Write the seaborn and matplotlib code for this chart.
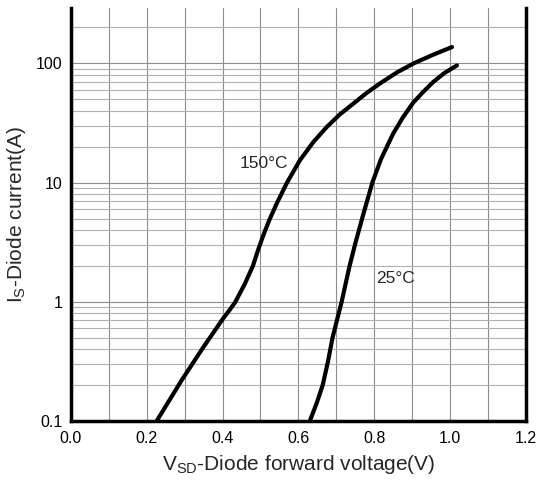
import numpy as np
import pandas as pd
import matplotlib
matplotlib.use("Agg")
import matplotlib.pyplot as plt
import seaborn as sns
from matplotlib.ticker import FixedLocator, LogLocator, NullFormatter, FixedFormatter

# 150C curve
v_150 = [0.226, 0.26, 0.292, 0.35, 0.402, 0.418, 0.433, 0.458, 0.48, 0.495, 0.51, 0.525, 0.545, 0.570, 0.604,
         0.64, 0.675, 0.71, 0.745, 0.78, 0.815, 0.86, 0.903, 0.955, 1.005]
i_150 = [0.1, 0.15, 0.22, 0.42, 0.73, 0.85, 0.99, 1.4, 2.0, 2.8, 3.8, 5.0, 6.9, 10.0, 15.4,
         22.0, 29.3, 37.5, 46.0, 56.5, 67.8, 84.0, 99.6, 118.0, 137.0]

# 25C curve
v_25 = [0.630, 0.648, 0.664, 0.678, 0.690, 0.702, 0.714, 0.735, 0.749, 0.768, 0.795, 0.818, 0.85, 0.875,
        0.903, 0.93, 0.956, 0.985, 1.018]
i_25 = [0.1, 0.141, 0.2, 0.316, 0.5, 0.708, 1.0, 2.0, 3.0, 5.0, 10.0, 15.8, 25.8, 35.0,
        47.0, 58.0, 70.0, 83.0, 96.0]

x_ticks = [0.0, 0.2, 0.4, 0.6, 0.8, 1.0, 1.2]
y_ticks = [0.1, 1, 10, 100]
y_tick_labels = ["0.1", "1", "10", "100"]

sns.set_style("white")
plt.rcParams['font.family'] = ['Liberation Sans', 'DejaVu Sans']
plt.rcParams['mathtext.fontset'] = 'custom'
plt.rcParams['mathtext.rm'] = 'Liberation Sans'
plt.rcParams['mathtext.it'] = 'Liberation Sans:italic'

fig = plt.figure(figsize=(5.45, 4.83), dpi=100)
ax = fig.add_axes([0.130, 0.128, 0.835, 0.855])

df150 = pd.DataFrame({"v": v_150, "i": i_150})
df25 = pd.DataFrame({"v": v_25, "i": i_25})
sns.lineplot(data=df150, x="v", y="i", ax=ax, color="black", linewidth=3, sort=False, zorder=3)
sns.lineplot(data=df25, x="v", y="i", ax=ax, color="black", linewidth=3, sort=False, zorder=3)

ax.set_yscale("log")
ax.set_xlim(0, 1.2)
ax.set_ylim(0.1, 290)

ax.xaxis.set_major_locator(FixedLocator(x_ticks))
ax.xaxis.set_minor_locator(FixedLocator(np.arange(0.1, 1.2, 0.2)))
ax.set_xticklabels([f"{t:.1f}" for t in x_ticks])
ax.yaxis.set_major_locator(FixedLocator(y_ticks))
ax.yaxis.set_major_formatter(FixedFormatter(y_tick_labels))
ax.yaxis.set_minor_locator(LogLocator(base=10, subs=np.arange(2, 10)))
ax.yaxis.set_minor_formatter(NullFormatter())

ax.grid(which="major", axis="both", color="#8c8c8c", linewidth=0.8)
ax.grid(which="minor", axis="x", color="#8c8c8c", linewidth=0.8)
ax.grid(which="minor", axis="y", color="#b0b0b0", linewidth=0.8)
ax.set_axisbelow(True)

ax.tick_params(which="both", length=0, labelsize=11.5, colors="black")
ax.tick_params(axis="x", pad=7)
ax.tick_params(axis="y", pad=6)

for s in ["left", "right", "bottom"]:
    ax.spines[s].set_linewidth(2.5)
    ax.spines[s].set_color("black")
ax.spines["top"].set_visible(False)

ax.set_xlabel(r"V$_\mathrm{SD}$-Diode forward voltage(V)", fontsize=15, labelpad=5)
ax.set_ylabel(r"I$_\mathrm{S}$-Diode current(A)", fontsize=15, labelpad=6)

ax.text(0.51, 14.5, "150°C", fontsize=12.5, ha="center", va="center")
ax.text(0.857, 1.58, "25°C", fontsize=12.5, ha="center", va="center")

fig.savefig("out.png", dpi=100)
